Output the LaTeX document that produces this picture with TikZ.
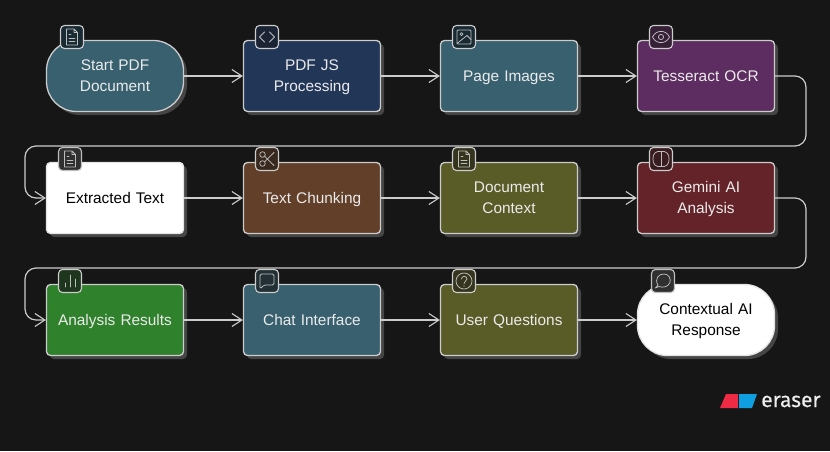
\documentclass[tikz,border=0pt]{standalone}
\usepackage{fontspec}
\setmainfont{Liberation Sans}
\newfontfamily\logofont[FakeBold=0.5]{Fira Sans}
\usetikzlibrary{arrows.meta,shadows}
\definecolor{bgdark}{HTML}{161616}
\definecolor{edgeline}{HTML}{CCCCCC}
\definecolor{inkline}{HTML}{BEBEBE}
\definecolor{shadowgray}{HTML}{454545}
\definecolor{tealfill}{HTML}{38606F}
\definecolor{navyfill}{HTML}{223658}
\definecolor{purplefill}{HTML}{5D2C60}
\definecolor{brownfill}{HTML}{623F28}
\definecolor{olivefill}{HTML}{5A5C28}
\definecolor{redfill}{HTML}{642329}
\definecolor{greenfill}{HTML}{2F812C}
\definecolor{logored}{HTML}{EE2A45}
\definecolor{logoblue}{HTML}{0F9FE0}
\tikzset{
	box/.style={draw=edgeline, line width=1.3pt, rounded corners=4pt, minimum width=137pt, minimum height=71pt,
		inner sep=0pt, outer sep=0.6pt, text width=130pt, align=center, text=white!92!black, font=\fontsize{15.4}{21}\selectfont,
		execute at begin node={\rule{0pt}{17pt}}, execute at end node=\strut,
		drop shadow={shadow xshift=3.5pt, shadow yshift=-3.5pt, fill=shadowgray, opacity=1}},
	pill/.style={box, rounded corners=30pt},
	whitebox/.style={text=black, fill=white, draw=white!90!black},
	iconbox/.style={draw=edgeline, line width=1.1pt, rounded corners=4pt, minimum size=23pt, inner sep=0pt},
	flow/.style={draw=edgeline, line width=1.2pt, -{Straight Barb[length=10pt,width=13pt,line width=1.1pt]}},
	ink/.style={draw=inkline, line width=0.75pt, line cap=round, line join=round},
	docicon/.pic={
		\draw[ink] (-5.5,-8) -- (2,-8) -- (5.5,-4.5) -- (5.5,8) -- (-5.5,8) -- cycle (2,-8) -- (2,-4.5) -- (5.5,-4.5);
		\draw[ink] (-3,-2.5) -- (-1,-2.5) (-3,1) -- (3,1) (-3,4.5) -- (3,4.5);
	},
	codeicon/.pic={\draw[ink] (-2.5,-5) -- (-7.5,0) -- (-2.5,5) (2.5,-5) -- (7.5,0) -- (2.5,5);},
	imageicon/.pic={
		\draw[ink, rounded corners=1pt] (-7,-7) rectangle (7,7);
		\draw[ink] (-2.5,-2.8) circle (1.5pt) (-7,6.5) -- (3,-1.5) -- (7,2.5);
	},
	eyeicon/.pic={
		\draw[ink] (-8.5,0) .. controls (-5,-7.5) and (5,-7.5) .. (8.5,0) .. controls (5,7.5) and (-5,7.5) .. (-8.5,0);
		\draw[ink] (0,0) circle (2.6pt);
	},
	scissoricon/.pic={
		\draw[ink] (-4.5,-4.5) circle (2.8pt) (-4.5,4.5) circle (2.8pt);
		\draw[ink] (-2.5,-2.8) -- (7,6.5) (-2.5,2.8) -- (7,-6.5);
	},
	brainicon/.pic={
		\draw[ink] (0,-7.5) .. controls (-5,-8.5) and (-8.5,-5) .. (-8,0) .. controls (-8.5,5) and (-5,8.5) .. (0,7.5)
			.. controls (5,8.5) and (8.5,5) .. (8,0) .. controls (8.5,-5) and (5,-8.5) .. (0,-7.5) -- cycle;
		\draw[ink] (0,-7.5) -- (0,7.5);
	},
	barsicon/.pic={\draw[ink] (-5,6) -- (-5,2) (0,6) -- (0,-6) (5,6) -- (5,-2);},
	chaticon/.pic={\draw[ink, rounded corners=1.5pt] (-7,-7) -- (7,-7) -- (7,4) -- (-3,4) -- (-7,8) -- cycle;},
	askicon/.pic={
		\draw[ink] (0,0) circle (8pt);
		\draw[ink] (-2.5,-2) .. controls (-2.5,-5.5) and (3,-5.5) .. (3,-2) .. controls (3,0) and (0,0) .. (0,2.5);
		\fill[inkline] (0,5) circle (0.7pt);
	},
	bubbleicon/.pic={\draw[ink] (-5,4) .. controls (-9,-2) and (-4,-7.5) .. (1,-7) .. controls (6,-7) and (8,-2) .. (7,1.5)
		.. controls (5,6) and (0,7) .. (-4,5.5) -- (-7.5,7) -- cycle;},
}

\begin{document}
\begin{tikzpicture}[x=1pt,y=-1pt]
	\fill[bgdark] (0,0) rectangle (830,451);
	% first row
	\node[pill, fill=tealfill] (start) at (115,76) {Start PDF\\Document};
	\node[box, fill=navyfill] (pdfjs) at (312,76) {PDF JS\\Processing};
	\node[box, fill=tealfill] (pages) at (509,76) {Page Images};
	\node[box, fill=purplefill] (ocr) at (706,76) {Tesseract OCR};
	% second row
	\node[box, whitebox] (extracted) at (115,198) {Extracted Text};
	\node[box, fill=brownfill] (chunking) at (312,198) {Text Chunking};
	\node[box, fill=olivefill] (context) at (509,198) {Document\\Context};
	\node[box, fill=redfill] (gemini) at (706,198) {Gemini AI\\Analysis};
	% third row
	\node[box, fill=greenfill] (results) at (115,320) {Analysis Results};
	\node[box, fill=tealfill] (chat) at (312,320) {Chat Interface};
	\node[box, fill=olivefill] (questions) at (509,320) {User Questions};
	\node[pill, whitebox] (response) at (706,320) {Contextual AI\\Response};
	% connectors
	\draw[flow] (start) -- (pdfjs);
	\draw[flow] (pdfjs) -- (pages);
	\draw[flow] (pages) -- (ocr);
	\coordinate (wrapa) at (806,146);
	\coordinate (wrapb) at (25,146);
	\draw[flow, rounded corners=11pt] (ocr) -| (wrapa) -- (wrapb) |- (extracted);
	\draw[flow] (extracted) -- (chunking);
	\draw[flow] (chunking) -- (context);
	\draw[flow] (context) -- (gemini);
	\coordinate (wrapc) at (806,268);
	\coordinate (wrapd) at (25,268);
	\draw[flow, rounded corners=11pt] (gemini) -| (wrapc) -- (wrapd) |- (results);
	\draw[flow] (results) -- (chat);
	\draw[flow] (chat) -- (questions);
	\draw[flow] (questions) -- (response);
	% icons
	\node[iconbox, fill=tealfill!45!black] (starticon) at (72,37) {};
	\pic at (starticon) {docicon};
	\node[iconbox, fill=navyfill!45!bgdark] (pdfjsicon) at (267,37) {};
	\pic at (pdfjsicon) {codeicon};
	\node[iconbox, fill=tealfill!45!black] (pagesicon) at (464,37) {};
	\pic at (pagesicon) {imageicon};
	\node[iconbox, fill=purplefill!45!bgdark] (ocricon) at (661,37) {};
	\pic at (ocricon) {eyeicon};
	\node[iconbox, fill=shadowgray!70!black, draw=white!75!black] (extractedicon) at (70,159) {};
	\pic at (extractedicon) {docicon};
	\node[iconbox, fill=brownfill!45!bgdark] (chunkingicon) at (267,159) {};
	\pic at (chunkingicon) {scissoricon};
	\node[iconbox, fill=olivefill!45!bgdark] (contexticon) at (464,159) {};
	\pic at (contexticon) {docicon};
	\node[iconbox, fill=redfill!45!bgdark] (geminiicon) at (661,159) {};
	\pic at (geminiicon) {brainicon};
	\node[iconbox, fill=greenfill!30!bgdark] (resultsicon) at (70,281) {};
	\pic at (resultsicon) {barsicon};
	\node[iconbox, fill=tealfill!35!bgdark] (chaticon) at (267,281) {};
	\pic at (chaticon) {chaticon};
	\node[iconbox, fill=olivefill!45!bgdark] (questionsicon) at (464,281) {};
	\pic at (questionsicon) {askicon};
	\node[iconbox, fill=shadowgray!70!black, draw=white!75!black] (responseicon) at (663,281) {};
	\pic at (responseicon) {bubbleicon};
	% logo
	\fill[logored] (720,408) -- (726,394) -- (738,394) -- (738,408) -- cycle;
	\fill[logoblue] (739,394) -- (757,394) -- (752,408) -- (739,408) -- cycle;
	\node[anchor=base west, inner sep=0pt, text=white!93!black, font=\logofont\fontsize{21}{21}\selectfont] (logo) at (761,407) {eraser};
\end{tikzpicture}
\end{document}
